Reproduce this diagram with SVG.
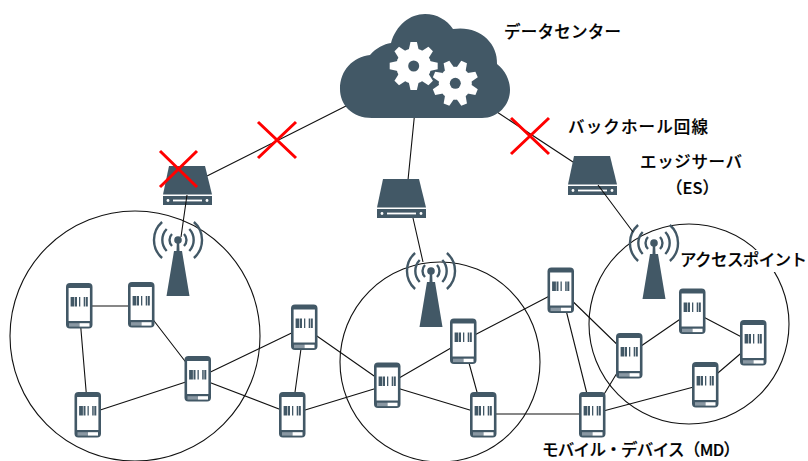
<svg xmlns="http://www.w3.org/2000/svg" xmlns:xlink="http://www.w3.org/1999/xlink" width="808" height="461" viewBox="0 0 808 461">
<style>
text{font-family:"Noto Sans CJK JP","Noto Sans",sans-serif;font-size:16.500px;fill:#000;font-weight:500;stroke:#000;stroke-width:.2}
.ln{stroke:#111;stroke-width:1.100;fill:none}
.rg{fill:none;stroke:#111;stroke-width:1.100}
.x{stroke:#f00;stroke-width:3;fill:none}
.d{fill:#425866}
.w{fill:none;stroke:#425866;stroke-width:2.400}
</style>
<defs>
<symbol id="phone" overflow="visible">
<rect width="26.500" height="45.500" rx="4" class="d"/>
<rect x="2.600" y="5" width="21.300" height="33" fill="#fff"/>
<rect x="3" y="40.200" width="10.500" height="3.400" fill="#8a98a3"/>
<rect x="13.500" y="40.200" width="10" height="3.400" fill="#fff"/>
<g class="d"><rect x="4.600" y="14" width="3.800" height="9.500"/><rect x="9" y="14" width="2" height="9.500"/><rect x="13" y="14" width="1.300" height="9.500"/><rect x="17.700" y="14" width="1.500" height="9.500"/><rect x="19.800" y="14" width="2" height="9.500"/></g>
</symbol>
<symbol id="server" overflow="visible">
<path d="M6 0H42L49 28.500H0Z" class="d"/>
<rect y="30" width="49" height="9" class="d"/>
<circle cx="5" cy="34.500" r="1.400" fill="#fff"/><circle cx="44" cy="34.500" r="1.400" fill="#fff"/>
<rect x="10" y="33.600" width="29" height="1.800" fill="#fff"/>
</symbol>
<symbol id="tower" overflow="visible">
<circle r="3.800" class="d"/>
<path d="M-1.200 3H1.200L1.500 11H4L11.500 56H-11.500L-4 11H-1.500Z" class="d"/>
<path d="M-6-6A8.500 8.500 0 0 0-6 6M6-6A8.500 8.500 0 0 1 6 6M-11.300-11A16 16 0 0 0-11.300 11M11.300-11A16 16 0 0 1 11.300 11M-15.900-18A24 24 0 0 0-15.900 18M15.900-18A24 24 0 0 1 15.900 18" class="w"/>
</symbol>
<g id="teeth" fill="#fff">
<path id="t" d="M-5-16L-3.200-24H3.200L5-16Z"/>
<use xlink:href="#t" transform="rotate(45)"/><use xlink:href="#t" transform="rotate(90)"/><use xlink:href="#t" transform="rotate(135)"/><use xlink:href="#t" transform="rotate(180)"/><use xlink:href="#t" transform="rotate(225)"/><use xlink:href="#t" transform="rotate(270)"/><use xlink:href="#t" transform="rotate(315)"/>
</g>
</defs>
<rect width="808" height="461" fill="#fff"/>
<g id="ranges">
<circle class="rg" cx="135" cy="336" r="125"/>
<circle class="rg" cx="440" cy="362" r="100"/>
<circle class="rg" cx="689" cy="324" r="100"/>
</g>
<g id="connectors">
<path class="ln" d="M346 106L207 176M415 110L408 180M497 112L573 162"/>
<path class="ln" d="M79 306H141M79 306L88 414M141 304L198 378M198 378L88 414M198 378L304 327M198 378L292 414M304 327L292 414M292 414L387 385M304 327L387 385M387 385L463 341M387 385L483 414M463 341L483 414M463 341L561 290M483 414H592M561 290L628 355M561 290L592 414M628 355L592 414M628 355L692 311M692 311L753 343M753 343L705 384M705 384L592 414"/>
</g>
<g id="cloud">
<path class="d" d="M372 118C352 118 340 105 340 89C340 70 353 57 370 55C376 48 384 44 391 43C396 25 410 14 425 14C437 14 447 20 453 29C478 25 498 42 497 64C505 70 510 80 510 90C510 105 498 118 482 118Z"/>
<g transform="translate(413.700 66)">
<circle r="17.500" fill="#fff"/>
<use xlink:href="#teeth"/>
<circle r="5.500" class="d"/>
</g>
<g transform="translate(455.300 83.300)">
<circle r="19" class="d"/>
<circle r="16.500" fill="#fff"/>
<use xlink:href="#teeth" transform="rotate(22.500) scale(.96)"/>
<circle r="5.500" class="d"/>
</g>
</g>
<g id="server1"><use xlink:href="#server" x="163" y="166"/></g>
<g id="server2"><use xlink:href="#server" x="377" y="179"/></g>
<g id="server3"><use xlink:href="#server" x="568" y="156"/></g>
<g id="tower1"><use xlink:href="#tower" x="178" y="240"/></g>
<g id="tower2"><use xlink:href="#tower" x="431" y="271"/></g>
<g id="tower3"><use xlink:href="#tower" x="654" y="243"/></g>
<g id="links">
<path class="ln" d="M413 218L423 262M187 195L181 237M598 185L633 232"/>
</g>
<g id="p1"><use xlink:href="#phone" x="66" y="283"/></g>
<g id="p2"><use xlink:href="#phone" x="128" y="282"/></g>
<g id="p3"><use xlink:href="#phone" x="184.500" y="356"/></g>
<g id="p4"><use xlink:href="#phone" x="74.500" y="392"/></g>
<g id="p5"><use xlink:href="#phone" x="291" y="304.500"/></g>
<g id="p6"><use xlink:href="#phone" x="279" y="392"/></g>
<g id="p7"><use xlink:href="#phone" x="374" y="362.500"/></g>
<g id="p8"><use xlink:href="#phone" x="450" y="318.500"/></g>
<g id="p9"><use xlink:href="#phone" x="470" y="392"/></g>
<g id="p10"><use xlink:href="#phone" x="547.500" y="267.500"/></g>
<g id="p11"><use xlink:href="#phone" x="616" y="333"/></g>
<g id="p12"><use xlink:href="#phone" x="579" y="392"/></g>
<g id="p13"><use xlink:href="#phone" x="679" y="288.500"/></g>
<g id="p14"><use xlink:href="#phone" x="740" y="320"/></g>
<g id="p15"><use xlink:href="#phone" x="692" y="362"/></g>
<g id="crosses">
<path class="x" d="M258 122L296 158M296 122L258 158"/>
<path class="x" d="M160 151L197 187M197 151L160 187"/>
<path class="x" d="M511 118L549 154M549 118L511 154"/>
</g>
<g id="labels">
<text x="504" y="38" textLength="117">データセンター</text>
<text x="568" y="133" textLength="140">バックホール回線</text>
<text x="640" y="168" textLength="102">エッジサーバ</text>
<text x="666" y="194">（ES）</text>
<rect x="679" y="250" width="129" height="22" fill="#fff"/>
<text x="680" y="266" textLength="127">アクセスポイント</text>
<text x="542" y="456" textLength="198">モバイル・デバイス（MD）</text>
</g>
</svg>
